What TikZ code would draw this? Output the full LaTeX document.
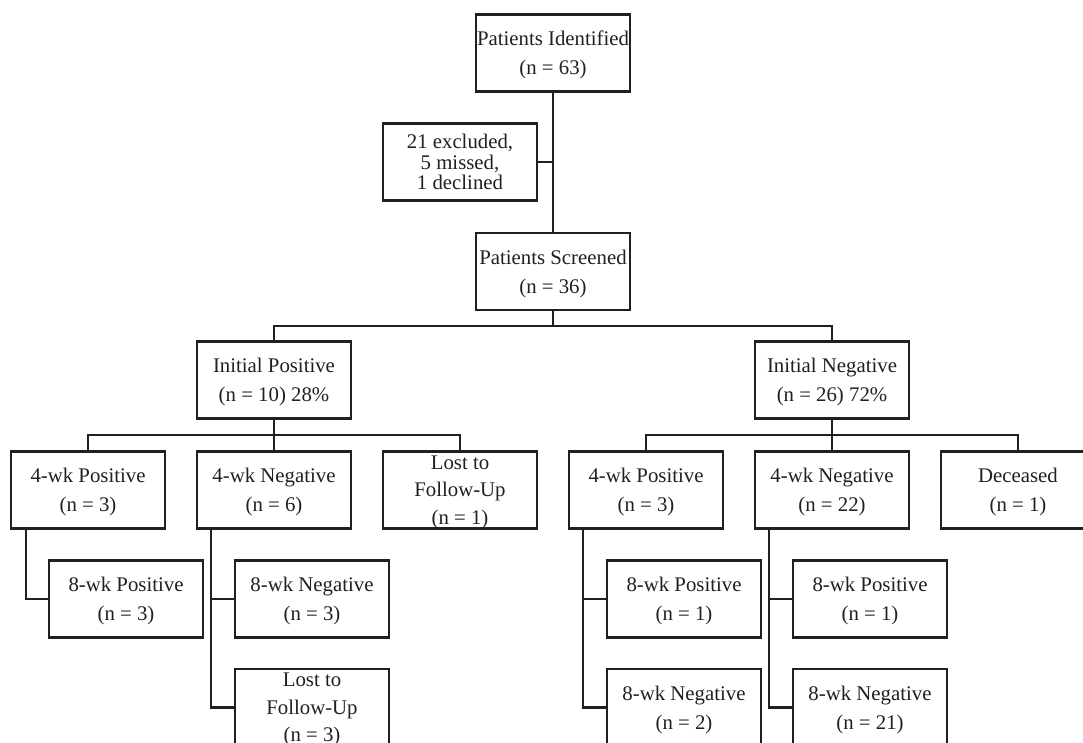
\documentclass[tikz,border=0pt]{standalone}
\usepackage{fontspec}
\setmainfont{Liberation Serif}
\usetikzlibrary{calc}
\definecolor{ink}{HTML}{231F20}
\tikzset{
  box/.style={draw=ink, line width=1.1pt, minimum width=77pt, minimum height=38.5pt,
    inner sep=0pt, align=center, text=ink, text depth=0pt, font=\fontsize{10.4}{14.6}\selectfont},
  box3/.style={box, font=\fontsize{10.4}{13.8}\selectfont},
  boxx/.style={box, font=\fontsize{10.4}{10.2}\selectfont},
  link/.style={draw=ink, line width=1.05pt}
}
\begin{document}
\begin{tikzpicture}[x=0.5pt,y=-0.5pt]
\fill[white] (0,0) rectangle (1083,743);
\clip (0,0) rectangle (1083,743);
% level 0-2
\node[box] (pid) at (553,53) {Patients Identified\\(n = 63)};
\node[boxx] (excl) at (460,162) {21 excluded,\\5 missed,\\1 declined};
\node[box] (psc) at (553,271.5) {Patients Screened\\(n = 36)};
\node[box] (ipos) at (274,380) {Initial Positive\\(n = 10) 28\%};
\node[box] (ineg) at (832,380) {Initial Negative\\(n = 26) 72\%};
% level 3 left
\node[box] (a1) at (88,490) {4-wk Positive\\(n = 3)};
\node[box] (a2) at (274,490) {4-wk Negative\\(n = 6)};
\node[box3] (a3) at (460,490) {Lost to\\Follow-Up\\(n = 1)};
% level 3 right
\node[box] (b1) at (646,490) {4-wk Positive\\(n = 3)};
\node[box] (b2) at (832,490) {4-wk Negative\\(n = 22)};
\node[box] (b3) at (1018,490) {Deceased\\(n = 1)};
% level 4/5
\node[box] (a1p) at (126,599) {8-wk Positive\\(n = 3)};
\node[box] (a2n) at (312,599) {8-wk Negative\\(n = 3)};
\node[box3] (a2l) at (312,707.5) {Lost to\\Follow-Up\\(n = 3)};
\node[box] (b1p) at (684,599) {8-wk Positive\\(n = 1)};
\node[box] (b1n) at (684,707.5) {8-wk Negative\\(n = 2)};
\node[box] (b2p) at (870,599) {8-wk Positive\\(n = 1)};
\node[box] (b2n) at (870,707.5) {8-wk Negative\\(n = 21)};
% bar coordinates
\coordinate (bar0) at (553,326);
\coordinate (barL) at (274,435);
\coordinate (barR) at (832,435);
% connectors top
\draw[link] (pid.south) -- (psc.north);
\draw[link] (excl.east) -- (excl.east -| pid.south);
\draw[link] (psc.south) -- (bar0);
\draw[link] (ipos.north) |- (bar0) -| (ineg.north);
% connectors level 3
\draw[link] (ipos.south) -- (barL);
\draw[link] (a1.north) |- (barL) -| (a3.north);
\draw[link] (barL) -- (a2.north);
\draw[link] (ineg.south) -- (barR);
\draw[link] (b1.north) |- (barR) -| (b3.north);
\draw[link] (barR) -- (b2.north);
% connectors level 4/5
\draw[link] ($(a1.south west)+(15.7,0)$) |- (a1p.west);
\draw[link] ($(a2.south west)+(15.5,0)$) |- (a2l.west);
\draw[link] ($(a2.south west)+(15.5,0)$) |- (a2n.west);
\draw[link] ($(b1.south west)+(15.5,0)$) |- (b1n.west);
\draw[link] ($(b1.south west)+(15.5,0)$) |- (b1p.west);
\draw[link] ($(b2.south west)+(15.5,0)$) |- (b2n.west);
\draw[link] ($(b2.south west)+(15.5,0)$) |- (b2p.west);
\end{tikzpicture}
\end{document}
